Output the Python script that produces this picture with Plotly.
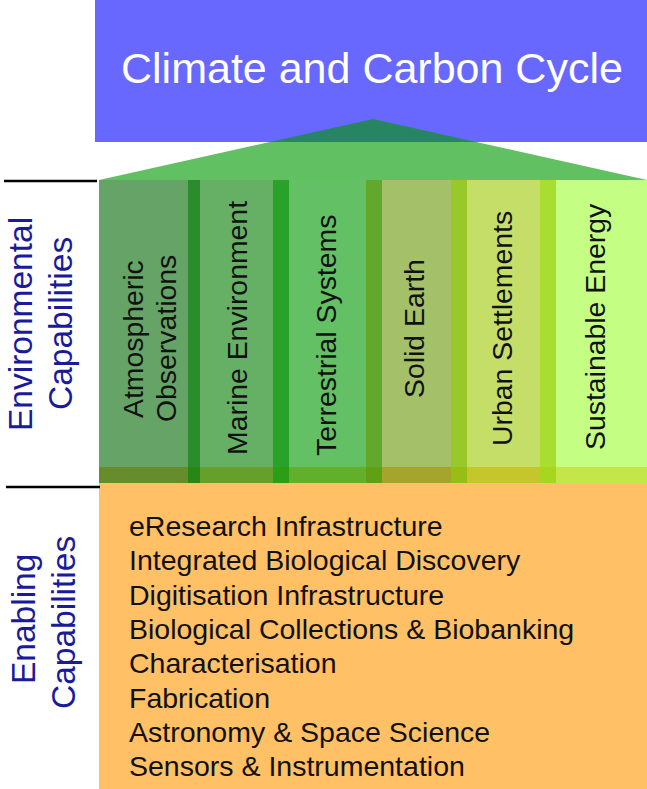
import plotly.graph_objects as go

# ---------------- data (text content and colours) ----------------
title_text = "Climate and Carbon Cycle"
section_labels = [["Environmental", "Capabilities"], ["Enabling", "Capabilities"]]
pillar_labels = [
    ["Atmospheric", "Observations"],
    ["Marine Environment"],
    ["Terrestrial Systems"],
    ["Solid Earth"],
    ["Urban Settlements"],
    ["Sustainable Energy"],
]
enabling_items = [
    "eResearch Infrastructure",
    "Integrated Biological Discovery",
    "Digitisation Infrastructure",
    "Biological Collections & Biobanking",
    "Characterisation",
    "Fabrication",
    "Astronomy & Space Science",
    "Sensors & Instrumentation",
]
pillar_colors = ["#66A366", "#66B066", "#64C064", "#A4C068", "#C4DE68", "#C4FF84"]
stripe_colors = ["#2A8C2A", "#2AA22A", "#62A82A", "#98C82A", "#A8DE30"]
pillar_band_colors = ["#678C2B", "#66A02A", "#62AF2A", "#A4A52A", "#C4C62A", "#C4E648"]
stripe_band_colors = ["#288714", "#2A9E14", "#60A014", "#98BE14", "#A8D61E"]

# ---------------- layout geometry (pixels) ----------------
W, H = 647, 789
FONT = "Liberation Sans, Arial, Helvetica, sans-serif"
pillar_x = [(99, 188), (200, 273), (289, 366), (382, 451), (467, 540), (556, 647)]
pillar_top, band_top, pillar_bottom = 180, 467, 483
label_x = [[133, 166], [237], [326], [414], [502], [595]]
label_y = [339, 328, 336, 329, 329, 327]
section_x = [[20, 60], [23, 63]]
section_y = [[324, 324], [619, 623]]
item_x, item_y0, item_dy = 127, 526, 34.3

shapes = []
annotations = []

# title block
shapes.append(dict(type="rect", x0=95, x1=W, y0=0, y1=142,
                   fillcolor="#6868FF", line=dict(width=0), layer="below"))
# roof triangle (translucent green over the blue block)
shapes.append(dict(type="path", path=f"M 99,{pillar_top} L 373,119 L {W},{pillar_top} Z",
                   fillcolor="rgba(0,153,0,0.62)", line=dict(width=0)))

# pillars and stripes
for i, (a, b) in enumerate(pillar_x):
    shapes.append(dict(type="rect", x0=a, x1=b, y0=pillar_top, y1=band_top,
                       fillcolor=pillar_colors[i], line=dict(width=0)))
    shapes.append(dict(type="rect", x0=a, x1=b, y0=band_top, y1=pillar_bottom,
                       fillcolor=pillar_band_colors[i], line=dict(width=0)))
    if i < len(pillar_x) - 1:
        s0, s1 = b, pillar_x[i + 1][0]
        shapes.append(dict(type="rect", x0=s0, x1=s1, y0=pillar_top, y1=band_top,
                           fillcolor=stripe_colors[i], line=dict(width=0)))
        shapes.append(dict(type="rect", x0=s0, x1=s1, y0=band_top, y1=pillar_bottom,
                           fillcolor=stripe_band_colors[i], line=dict(width=0)))

# foundation block
shapes.append(dict(type="rect", x0=99, x1=W, y0=pillar_bottom, y1=H,
                   fillcolor="#FFC066", line=dict(width=0)))

# left separator lines
shapes.append(dict(type="line", x0=4, x1=97, y0=181, y1=181, line=dict(color="black", width=2.6)))
shapes.append(dict(type="line", x0=6, x1=100, y0=487, y1=487, line=dict(color="black", width=2.6)))

# title
annotations.append(dict(x=371.5, y=68, text=title_text, showarrow=False,
                        xanchor="center", yanchor="middle",
                        font=dict(family=FONT, size=43, color="white")))

# pillar labels
for i, lines in enumerate(pillar_labels):
    for j, t in enumerate(lines):
        annotations.append(dict(x=label_x[i][j], y=label_y[i], text=t, showarrow=False,
                                textangle=-90, xanchor="center", yanchor="middle",
                                font=dict(family=FONT, size=28.4, color="#111111")))

# section labels
for i, lines in enumerate(section_labels):
    for j, t in enumerate(lines):
        annotations.append(dict(x=section_x[i][j], y=section_y[i][j], text=t, showarrow=False,
                                textangle=-90, xanchor="center", yanchor="middle",
                                font=dict(family=FONT, size=33.5, color="#1A1A9C")))

# enabling capability list
for k, t in enumerate(enabling_items):
    annotations.append(dict(x=item_x, y=item_y0 + k * item_dy, text=t, showarrow=False,
                            xanchor="left", yanchor="middle",
                            font=dict(family=FONT, size=28.5, color="#111111")))

fig = go.Figure()
fig.update_layout(
    width=W, height=H, autosize=False,
    margin=dict(l=0, r=0, t=0, b=0, pad=0),
    paper_bgcolor="white", plot_bgcolor="white",
    xaxis=dict(range=[0, W], visible=False, fixedrange=True),
    yaxis=dict(range=[H, 0], visible=False, fixedrange=True),
    shapes=shapes, annotations=annotations, showlegend=False,
)
post = (
    "document.documentElement.style.margin='0';document.documentElement.style.padding='0';"
    "document.documentElement.style.overflow='hidden';"
    "document.body.style.margin='0';document.body.style.padding='0';document.body.style.overflow='hidden';"
    "var gd=document.getElementById('{plot_id}');"
    "Plotly.relayout(gd,{width:%d,height:%d});" % (W, H)
)
fig.write_html("out.html", config={"responsive": False, "displayModeBar": False}, post_script=post)
